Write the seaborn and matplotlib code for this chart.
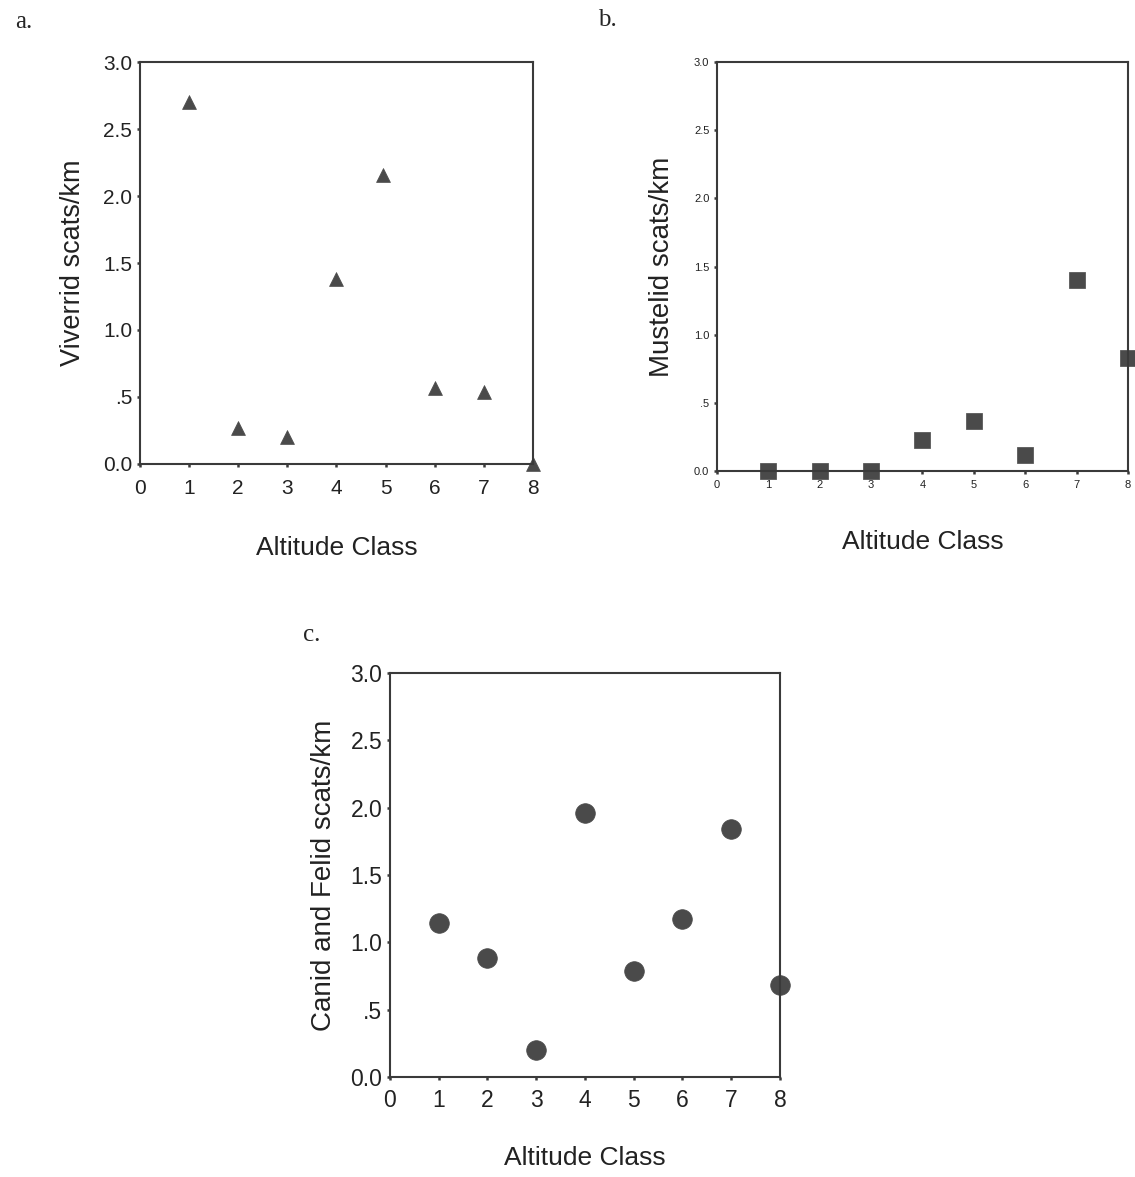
import matplotlib
matplotlib.use("Agg")
import matplotlib.pyplot as plt
import seaborn as sns
import pandas as pd

sns.set_theme(style="white")
plt.rcParams['font.family'] = ['Liberation Sans', 'DejaVu Sans']

altitude = [1, 2, 3, 4, 5, 6, 7, 8]
viverrid = [2.70, 0.27, 0.20, 1.38, 2.16, 0.57, 0.54, 0.0]
viverrid_x = [1, 2, 3, 4, 4.95, 6, 7, 8]
mustelid = [0.0, 0.0, 0.0, 0.23, 0.37, 0.12, 1.40, 0.83]
canid_felid = [1.14, 0.88, 0.20, 1.96, 0.79, 1.17, 1.84, 0.68]

x_ticks = [0, 1, 2, 3, 4, 5, 6, 7, 8]
y_ticks = [0.0, 0.5, 1.0, 1.5, 2.0, 2.5, 3.0]
y_tick_labels = ["0.0", ".5", "1.0", "1.5", "2.0", "2.5", "3.0"]

marker_color = "#4a4a4a"
spine_color = "#3a3a3a"
text_color = "#222222"

fig = plt.figure(figsize=(11.35, 11.77), dpi=100)

ax_a = fig.add_axes([0.1233, 0.6058, 0.3463, 0.3415])
ax_b = fig.add_axes([0.6317, 0.5998, 0.3621, 0.3475])
ax_c = fig.add_axes([0.3436, 0.0850, 0.3436, 0.3432])


def style_axis(ax, ylabel, tick_fs, xpad, ylabel_fs, ylabelpad, xlabelpad):
    ax.set_xlim(0, 8)
    ax.set_ylim(0, 3.0)
    ax.set_xticks(x_ticks)
    ax.set_xticklabels([str(t) for t in x_ticks])
    ax.set_yticks(y_ticks)
    ax.set_yticklabels(y_tick_labels)
    ax.tick_params(axis="both", direction="out", length=2.5, width=1.8,
                   color=spine_color, labelsize=tick_fs, labelcolor=text_color,
                   bottom=True, left=True)
    ax.tick_params(axis="x", pad=xpad)
    ax.tick_params(axis="y", pad=3)
    for s in ax.spines.values():
        s.set_visible(True)
        s.set_color(spine_color)
        s.set_linewidth(1.5)
    ax.set_xlabel("Altitude Class", fontsize=19, color=text_color, labelpad=xlabelpad)
    ax.set_ylabel(ylabel, fontsize=ylabel_fs, color=text_color, labelpad=ylabelpad)


df_a = pd.DataFrame({"x": viverrid_x, "y": viverrid})
sns.scatterplot(data=df_a, x="x", y="y", ax=ax_a, marker="^", s=100,
                color=marker_color, edgecolor=marker_color, linewidth=0.5, clip_on=False)
style_axis(ax_a, "Viverrid scats/km", 15, 8, 19.5, 12, 28)

df_b = pd.DataFrame({"x": altitude, "y": mustelid})
sns.scatterplot(data=df_b, x="x", y="y", ax=ax_b, marker="s", s=140,
                color=marker_color, edgecolor=marker_color, linewidth=0.5, clip_on=False)
style_axis(ax_b, "Mustelid scats/km", 8, 4, 20, 14, 29)

df_c = pd.DataFrame({"x": altitude, "y": canid_felid})
sns.scatterplot(data=df_c, x="x", y="y", ax=ax_c, marker="o", s=200,
                color=marker_color, edgecolor=marker_color, linewidth=0.5, clip_on=False)
style_axis(ax_c, "Canid and Felid scats/km", 16.5, 6, 20, 10, 25)

serif = ['Liberation Serif', 'DejaVu Serif']
fig.text(15 / 1135, 1 - 22 / 1177, "a.", fontsize=18, family=serif, va="center", ha="left")
fig.text(598 / 1135, 1 - 20 / 1177, "b.", fontsize=18, family=serif, va="center", ha="left")
fig.text(303 / 1135, 1 - 635 / 1177, "c.", fontsize=18, family=serif, va="center", ha="left")

fig.savefig("out.png", dpi=100, facecolor="white")
